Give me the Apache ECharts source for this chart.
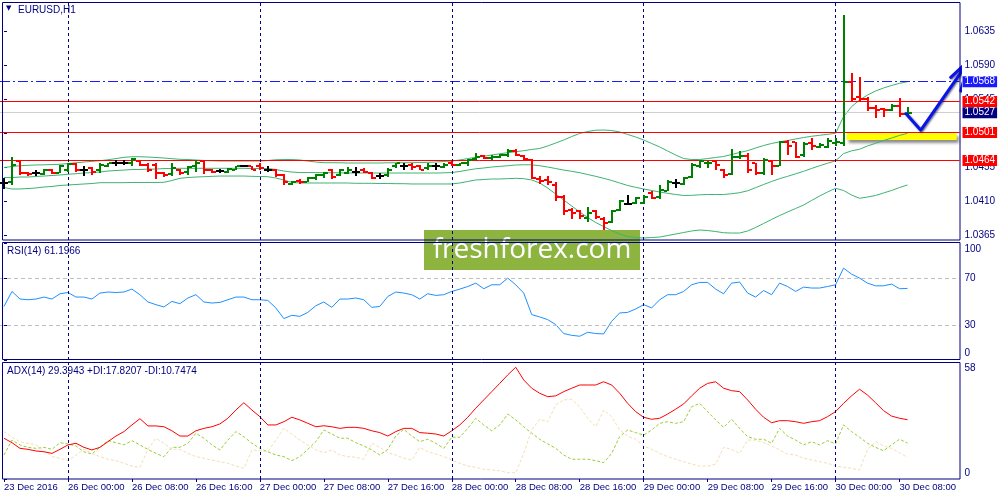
<!DOCTYPE html>
<html><head><meta charset="utf-8">
<script src="https://cdn.jsdelivr.net/npm/echarts@6/dist/echarts.min.js"></script>
<style>html,body{margin:0;padding:0;background:#fff}#c{width:1000px;height:500px}</style>
</head><body><div id="c"></div>
<script>
// ---------- data ----------
const tickIndex = [0,8,16,24,32,40,48,56,64,72,80,88,96,104,112];
const tickLabels = ['23 Dec 2016','26 Dec 00:00','26 Dec 08:00','26 Dec 16:00','27 Dec 00:00','27 Dec 08:00','27 Dec 16:00','28 Dec 00:00','28 Dec 08:00','28 Dec 16:00','29 Dec 00:00','29 Dec 08:00','29 Dec 16:00','30 Dec 00:00','30 Dec 08:00'];
const daySeparators = [8,32,56,80,104];

const open = [1.0434,1.0435,1.0463,1.0448,1.0447,1.0446,1.0452,1.0448,1.0452,1.0459,
1.0451,1.0454,1.0451,1.0456,1.0460,1.0461,1.0461,1.0463,1.0458,1.0458,
1.0448,1.0446,1.0452,1.0449,1.0456,1.0463,1.0452,1.0450,1.0449,1.0452,
1.0457,1.0457,1.0457,1.0452,1.0452,1.0445,1.0433,1.0437,1.0436,1.0441,
1.0445,1.0452,1.0445,1.0447,1.0449,1.0452,1.0448,1.0443,1.0445,1.0456,
1.0457,1.0458,1.0457,1.0454,1.0456,1.0455,1.0460,1.0458,1.0460,1.0466,
1.0470,1.0467,1.0469,1.0471,1.0477,1.0470,1.0465,1.0439,1.0438,1.0432,
1.0416,1.0398,1.0397,1.0388,1.0397,1.0386,1.0383,1.0398,1.0407,1.0408,
1.0408,1.0421,1.0416,1.0424,1.0434,1.0433,1.0442,1.0456,1.0460,1.0463,
1.0452,1.0446,1.0469,1.0470,1.0460,1.0447,1.0463,1.0457,1.0488,1.0488,
1.0471,1.0487,1.0482,1.0482,1.0487,1.0487,1.0567,1.0548,1.0545,1.0533,
1.0532,1.0530,1.0536,1.0526];
const close = [1.0434,1.0458,1.0447,1.0446,1.0447,1.0452,1.0447,1.0457,1.0459,1.0451,
1.0451,1.0449,1.0458,1.0460,1.0460,1.0461,1.0466,1.0458,1.0452,1.0447,
1.0445,1.0454,1.0447,1.0455,1.0460,1.0451,1.0449,1.0450,1.0453,1.0456,
1.0457,1.0452,1.0454,1.0452,1.0445,1.0435,1.0436,1.0435,1.0441,1.0445,
1.0448,1.0442,1.0451,1.0451,1.0449,1.0449,1.0441,1.0443,1.0452,1.0460,
1.0457,1.0455,1.0452,1.0457,1.0456,1.0458,1.0458,1.0460,1.0464,1.0469,
1.0467,1.0469,1.0471,1.0477,1.0471,1.0466,1.0441,1.0437,1.0436,1.0416,
1.0397,1.0394,1.0391,1.0394,1.0389,1.0382,1.0397,1.0410,1.0407,1.0414,
1.0416,1.0414,1.0425,1.0435,1.0434,1.0441,1.0458,1.0463,1.0461,1.0458,
1.0445,1.0469,1.0470,1.0452,1.0448,1.0465,1.0456,1.0488,1.0483,1.0469,
1.0486,1.0483,1.0485,1.0490,1.0489,1.0567,1.0545,1.0545,1.0533,1.0531,
1.0530,1.0536,1.0526,1.0527];
const low = [1.0426,1.0432,1.0445,1.0444,1.0444,1.0445,1.0446,1.0447,1.0449,1.0449,
1.0444,1.0445,1.0448,1.0455,1.0457,1.0458,1.0456,1.0456,1.0449,1.0439,
1.0442,1.0444,1.0445,1.0445,1.0449,1.0446,1.0447,1.0447,1.0448,1.0451,
1.0456,1.0451,1.0451,1.0449,1.0442,1.0432,1.0432,1.0433,1.0435,1.0438,
1.0441,1.0439,1.0443,1.0446,1.0444,1.0447,1.0439,1.0439,1.0442,1.0454,
1.0452,1.0452,1.0451,1.0452,1.0452,1.0454,1.0456,1.0457,1.0457,1.0464,
1.0466,1.0465,1.0467,1.0468,1.0470,1.0464,1.0439,1.0433,1.0432,1.0410,
1.0392,1.0386,1.0387,1.0383,1.0387,1.0372,1.0381,1.0397,1.0405,1.0407,
1.0407,1.0413,1.0413,1.0423,1.0427,1.0432,1.0441,1.0454,1.0454,1.0452,
1.0441,1.0445,1.0466,1.0447,1.0445,1.0445,1.0445,1.0456,1.0471,1.0467,
1.0469,1.0478,1.0480,1.0480,1.0483,1.0483,1.0543,1.0543,1.0529,1.0520,
1.0521,1.0529,1.0521,1.0523];
const high = [1.0441,1.0469,1.0463,1.0449,1.0451,1.0453,1.0453,1.0458,1.0460,1.0460,
1.0457,1.0455,1.0460,1.0461,1.0464,1.0464,1.0467,1.0464,1.0460,1.0460,
1.0449,1.0460,1.0453,1.0457,1.0464,1.0464,1.0453,1.0453,1.0454,1.0457,
1.0458,1.0457,1.0460,1.0456,1.0453,1.0446,1.0437,1.0439,1.0442,1.0446,
1.0449,1.0453,1.0453,1.0455,1.0455,1.0454,1.0449,1.0447,1.0454,1.0461,
1.0461,1.0460,1.0458,1.0460,1.0460,1.0460,1.0463,1.0461,1.0466,1.0474,
1.0471,1.0471,1.0473,1.0479,1.0479,1.0471,1.0466,1.0444,1.0444,1.0436,
1.0419,1.0401,1.0399,1.0403,1.0398,1.0389,1.0398,1.0412,1.0419,1.0416,
1.0419,1.0423,1.0432,1.0438,1.0439,1.0442,1.0460,1.0464,1.0463,1.0464,
1.0453,1.0479,1.0476,1.0474,1.0461,1.0467,1.0464,1.0490,1.0491,1.0489,
1.0488,1.0493,1.0487,1.0493,1.0493,1.0656,1.0580,1.0574,1.0548,1.0537,
1.0533,1.0539,1.0546,1.0535];

const bbUpper = [1.04546,1.04560,1.04570,1.04576,1.04580,1.04582,1.04586,1.04589,1.04599,1.04609,
1.04619,1.04628,1.04636,1.04649,1.04665,1.04681,1.04689,1.04689,1.04685,1.04679,
1.04672,1.04663,1.04655,1.04652,1.04646,1.04639,1.04636,1.04632,1.04632,1.04632,
1.04632,1.04632,1.04632,1.04639,1.04649,1.04652,1.04652,1.04646,1.04632,1.04619,
1.04610,1.04610,1.04609,1.04606,1.04606,1.04606,1.04606,1.04606,1.04609,1.04610,
1.04610,1.04610,1.04612,1.04615,1.04619,1.04626,1.04632,1.04646,1.04665,1.04681,
1.04695,1.04712,1.04728,1.04742,1.04755,1.04769,1.04785,1.04798,1.04831,1.04870,
1.04910,1.04956,1.04996,1.05022,1.05039,1.05042,1.05035,1.05016,1.04983,1.04950,
1.04910,1.04864,1.04818,1.04765,1.04712,1.04665,1.04652,1.04652,1.04665,1.04679,
1.04692,1.04718,1.04745,1.04769,1.04804,1.04837,1.04864,1.04886,1.04903,1.04923,
1.04943,1.04959,1.04972,1.04985,1.04998,1.05218,1.05350,1.05438,1.05504,1.05557,
1.05597,1.05630,1.05659,1.05680];
const bbMiddle = [1.04414,1.04414,1.04421,1.04421,1.04428,1.04434,1.04441,1.04448,1.04457,1.04465,
1.04474,1.04480,1.04487,1.04500,1.04507,1.04513,1.04520,1.04520,1.04526,1.04526,
1.04533,1.04533,1.04536,1.04536,1.04536,1.04536,1.04536,1.04536,1.04536,1.04536,
1.04536,1.04533,1.04533,1.04533,1.04520,1.04500,1.04487,1.04480,1.04480,1.04480,
1.04478,1.04478,1.04476,1.04474,1.04474,1.04474,1.04474,1.04474,1.04474,1.04474,
1.04474,1.04474,1.04474,1.04474,1.04474,1.04476,1.04480,1.04494,1.04513,1.04530,
1.04540,1.04553,1.04562,1.04570,1.04580,1.04583,1.04582,1.04570,1.04553,1.04533,
1.04513,1.04496,1.04478,1.04454,1.04430,1.04404,1.04375,1.04342,1.04309,1.04285,
1.04263,1.04243,1.04223,1.04206,1.04190,1.04177,1.04179,1.04186,1.04190,1.04190,
1.04190,1.04200,1.04214,1.04239,1.04280,1.04322,1.04362,1.04399,1.04430,1.04463,
1.04496,1.04534,1.04570,1.04603,1.04635,1.04730,1.04767,1.04788,1.04831,1.04866,
1.04903,1.04936,1.04971,1.04998];
const bbLower = [1.04282,1.04263,1.04263,1.04269,1.04276,1.04289,1.04296,1.04309,1.04316,1.04322,
1.04329,1.04335,1.04346,1.04346,1.04346,1.04346,1.04349,1.04349,1.04349,1.04349,
1.04351,1.04375,1.04404,1.04414,1.04421,1.04425,1.04430,1.04434,1.04434,1.04434,
1.04434,1.04430,1.04428,1.04425,1.04408,1.04382,1.04349,1.04342,1.04342,1.04342,
1.04342,1.04342,1.04342,1.04342,1.04338,1.04338,1.04338,1.04335,1.04335,1.04333,
1.04333,1.04329,1.04329,1.04329,1.04329,1.04329,1.04329,1.04342,1.04362,1.04382,
1.04388,1.04395,1.04395,1.04399,1.04404,1.04399,1.04382,1.04342,1.04276,1.04196,
1.04117,1.04038,1.03959,1.03886,1.03820,1.03767,1.03714,1.03668,1.03635,1.03622,
1.03615,1.03622,1.03628,1.03648,1.03668,1.03688,1.03708,1.03721,1.03714,1.03701,
1.03685,1.03681,1.03681,1.03708,1.03754,1.03807,1.03860,1.03912,1.03959,1.04005,
1.04051,1.04111,1.04170,1.04223,1.04272,1.04243,1.04183,1.04140,1.04157,1.04177,
1.04210,1.04243,1.04282,1.04316];

const rsi = [45.8,58.6,52.1,51.5,52.1,53.8,52.1,56.6,57.7,53.8,
53.8,52.1,57.2,58.1,57.7,58.1,60.6,55.8,49.6,47.3,
45.3,50.1,48.1,53.0,55.8,49.6,48.7,49.2,51.5,53.8,
53.8,51.5,51.5,50.9,44.5,35.4,38.2,37.3,40.7,46.4,
49.6,45.0,52.1,52.1,53.0,51.5,45.0,45.8,54.3,58.1,
57.2,55.8,52.1,56.6,55.2,55.8,58.6,60.6,62.8,65.7,
60.9,64.3,64.3,70.0,64.3,57.2,38.8,36.8,34.5,30.3,
22.6,21.1,20.3,23.7,22.6,22.3,33.1,40.2,40.7,43.6,
47.3,44.5,51.5,55.8,55.8,58.6,64.3,66.3,66.3,60.6,
56.6,65.7,66.6,57.2,53.8,59.4,55.8,65.7,62.8,58.6,
62.3,61.5,61.5,62.8,64.3,78.5,73.4,70.0,65.7,63.4,
63.4,64.9,60.9,61.2];
const adx = [20.2,18.0,15.2,14.7,13.9,13.5,12.7,14.7,16.9,17.7,
15.7,14.4,15.7,18.5,21.3,23.5,26.8,29.9,26.3,26.3,
25.9,23.9,21.3,21.3,23.9,25.1,25.9,27.3,30.1,34.2,
37.8,34.2,30.9,26.8,26.8,28.4,30.6,29.3,27.6,25.9,
26.4,25.9,25.1,25.6,25.6,25.1,23.9,23.0,21.3,23.5,
25.1,25.1,23.0,22.7,22.3,21.3,23.9,26.8,30.6,35.1,
39.2,43.3,47.4,51.6,55.4,49.1,45.0,42.5,40.8,41.2,
43.3,45.0,46.6,46.6,46.6,48.2,46.6,42.5,37.5,33.4,
30.6,29.6,30.1,32.2,34.6,37.2,41.2,45.0,47.4,48.2,
45.0,43.8,43.3,39.2,34.6,30.6,27.9,28.9,28.9,28.4,
27.6,28.4,28.9,30.9,33.4,37.5,41.2,44.5,41.6,37.8,
33.9,31.2,30.1,29.4];
const plusDI = [11.9,19.3,16.9,15.7,15.2,15.7,14.7,18.0,17.4,16.4,
13.5,12.4,15.7,19.0,18.0,16.9,19.0,16.9,14.7,12.7,
11.1,15.7,15.7,17.7,22.7,20.2,16.9,14.4,19.3,23.5,
21.0,17.7,15.2,13.5,11.9,11.1,9.1,11.1,14.7,18.5,
24.3,22.3,20.2,20.2,18.0,16.4,14.4,11.9,14.7,21.3,
24.6,21.3,18.5,19.7,17.7,15.2,20.7,20.7,25.1,30.1,
26.8,23.9,26.8,32.2,29.3,25.9,22.7,19.7,17.4,15.2,
11.9,9.8,9.8,9.8,9.1,8.1,12.7,21.0,24.3,23.0,
21.8,24.3,27.6,28.4,27.6,28.4,35.8,37.5,33.4,29.3,
25.6,29.6,25.1,21.0,19.7,19.7,17.7,25.1,21.3,19.3,
16.9,18.5,16.9,19.0,17.4,26.8,23.5,20.7,17.7,15.7,
14.0,16.9,19.7,17.8];
const minusDI = [23.5,20.7,18.5,17.7,16.9,14.0,11.1,10.3,9.1,11.9,
14.7,12.7,11.1,9.8,9.1,7.8,6.4,5.8,14.7,20.2,
17.7,14.7,14.7,12.7,11.1,10.3,9.4,8.6,7.8,6.4,
5.3,14.4,14.0,13.5,19.3,25.1,22.3,19.3,16.9,14.4,
13.0,14.4,11.9,11.1,10.8,9.8,17.7,15.7,13.0,11.9,
10.3,9.4,15.7,13.5,12.4,11.1,9.4,7.8,6.4,5.8,
4.8,4.5,4.1,3.1,3.1,12.7,24.3,29.6,28.4,36.7,
39.2,39.5,35.8,30.1,25.9,34.2,30.9,24.3,21.3,19.7,
16.4,14.7,12.7,11.1,9.8,8.6,7.4,6.4,6.4,7.4,
15.7,14.7,12.7,19.3,19.3,18.0,16.4,14.4,12.4,11.9,
10.3,9.4,8.6,7.8,6.4,5.8,5.3,4.5,14.7,18.5,
16.4,15.2,13.0,10.7];

const priceTicks = [1.0365,1.0410,1.0455,1.0500,1.0545,1.0590,1.0635];
const priceLevels = [1.0568,1.0542,1.0527,1.0501,1.0464];
const rsiTicks = [0,30,70,100];
const rsiLevels = [30,70];
const adxTicks = [0,58];
const zoneX = [105.4,119.15];
const zoneY = [1.0500,1.0491];
const arrowPath = [[112.8,1.0526],[114.66,1.0504],[120.75,1.05967],[118.4,1.05738],[120.75,1.05967],[119.66,1.05561]];
const titles = ['EURUSD,H1','RSI(14) 61.1966','ADX(14) 29.3943 +DI:17.8207 -DI:10.7474'];

// ---------- styles ----------
const FONT = "'Liberation Sans', Arial, sans-serif";
const NAVY = '#000080';
const levelStyle = [
  {line:{color:'#1a1aff',type:[10,3,2,3],width:1}, bg:'#1a1aff'},
  {line:{color:'#ff0000',type:'solid',width:1}, bg:'#ff0000'},
  {line:{color:'#d0d0d0',type:'solid',width:1}, bg:'#000080'},
  {line:{color:'#ff0000',type:'solid',width:1}, bg:'#ff0000'},
  {line:{color:'#ff0000',type:'solid',width:1}, bg:'#ff0000'}
];
const sepLine = {color:NAVY,type:[3,3],width:1};

const chart = echarts.init(document.getElementById('c'), null, {renderer:'canvas'});
const idx = (arr) => arr.map((v,i)=>[i,v]);

function renderBar(params, api){
  const i=api.value(0), o=api.value(1), c=api.value(2), l=api.value(3), h=api.value(4);
  const ph=api.coord([i,h]), pl=api.coord([i,l]), po=api.coord([i,o]), pc=api.coord([i,c]);
  const col = c>o ? '#008000' : (c<o ? '#ff0000' : '#000000');
  const x = Math.round(ph[0]);
  let y1 = Math.round(ph[1]), y2 = Math.round(pl[1]); if (y2-y1<2) y2=y1+2;
  const yo=Math.round(po[1]), yc=Math.round(pc[1]);
  return {type:'group', children:[
    {type:'rect', shape:{x:x-1, y:y1, width:2, height:y2-y1}, style:{fill:col}},
    {type:'rect', shape:{x:x-4, y:yo-1, width:3, height:2}, style:{fill:col}},
    {type:'rect', shape:{x:x+1, y:yc-1, width:3, height:2}, style:{fill:col}}
  ]};
}

const grids = [
  {left:-0.5, width:960, top:2, height:238},
  {left:-0.5, width:960, top:243, height:117},
  {left:-0.5, width:960, top:362, height:117}
];
const xAxes = [0,1,2].map(k => ({
  type:'value', gridIndex:k, min:-0.5, max:119.5,
  axisLine:{show:false}, splitLine:{show:false},
  axisTick: k===2 ? {show:true, customValues:tickIndex, length:3, lineStyle:{color:NAVY}} : {show:false},
  axisLabel: k===2 ? {show:true, customValues:tickIndex, align:'left', margin:3, color:NAVY, fontSize:9.5, fontFamily:FONT,
     formatter:(v)=>{const j=tickIndex.indexOf(Math.round(v)); return j>=0?tickLabels[j]:'';}} : {show:false}
}));
const yLabelBase = {color:NAVY, fontSize:10, fontFamily:FONT, margin:5};
const yAxes = [
  {type:'value', gridIndex:0, position:'right', min:1.03589, max:1.06733, axisLine:{show:false}, splitLine:{show:false},
   axisTick:{show:true, customValues:priceTicks, length:3, lineStyle:{color:NAVY}},
   axisLabel:Object.assign({customValues:priceTicks, formatter:(v)=>v.toFixed(4)}, yLabelBase)},
  {type:'value', gridIndex:1, position:'right', min:0, max:100, axisLine:{show:false}, splitLine:{show:false},
   axisTick:{show:true, customValues:rsiTicks, length:3, lineStyle:{color:NAVY}},
   axisLabel:Object.assign({customValues:rsiTicks, formatter:(v)=> v===100?'{t|100}':(v===0?'{b|0}':String(v)),
     rich:{t:{padding:[12,0,0,0],color:NAVY,fontSize:10,fontFamily:FONT}, b:{padding:[0,0,14,0],color:NAVY,fontSize:10,fontFamily:FONT}}}, yLabelBase)},
  {type:'value', gridIndex:2, position:'right', min:0, max:58, axisLine:{show:false}, splitLine:{show:false},
   axisTick:{show:true, customValues:adxTicks, length:3, lineStyle:{color:NAVY}},
   axisLabel:Object.assign({customValues:adxTicks, formatter:(v)=> v===58?'{t|58}':'{b|0}',
     rich:{t:{padding:[12,0,0,0],color:NAVY,fontSize:10,fontFamily:FONT}, b:{padding:[0,0,12,0],color:NAVY,fontSize:10,fontFamily:FONT}}}, yLabelBase)}
];

const sepMark = {silent:true, symbol:['none','none'], label:{show:false}, lineStyle:sepLine, precision:4,
  data: daySeparators.map(v=>({xAxis:v}))};

const series = [
  {name:'bbUpper', type:'line', xAxisIndex:0, yAxisIndex:0, data:idx(bbUpper), showSymbol:false, z:2,
   lineStyle:{color:'#3cb371',width:1},
   markArea:{silent:true, itemStyle:{color:'#ffff00', shadowColor:'rgba(0,0,0,0.45)', shadowBlur:3, shadowOffsetX:2, shadowOffsetY:3},
     data:[[{coord:[zoneX[0],zoneY[0]]},{coord:[zoneX[1],zoneY[1]]}]]}},
  {name:'bbMiddle', type:'line', xAxisIndex:0, yAxisIndex:0, data:idx(bbMiddle), showSymbol:false, z:2,
   lineStyle:{color:'#3cb371',width:1},
   markLine:{silent:true, symbol:['none','none'], precision:5,
     data: priceLevels.map((v,k)=>({yAxis:v, lineStyle:levelStyle[k].line,
       label:{show:true, position:'end', distance:3, formatter:v.toFixed(4), color:'#ffffff', backgroundColor:levelStyle[k].bg,
         padding:[1,2,0,2], fontSize:10, lineHeight:10, fontFamily:FONT}}))}},
  {name:'bbLower', type:'line', xAxisIndex:0, yAxisIndex:0, data:idx(bbLower), showSymbol:false, z:2,
   lineStyle:{color:'#3cb371',width:1}, markLine:sepMark},
  {name:'EURUSD', type:'custom', xAxisIndex:0, yAxisIndex:0, z:5,
   data: open.map((o,i)=>[i,o,close[i],low[i],high[i]]), encode:{x:0,y:[1,2,3,4]}, renderItem:renderBar},
  {name:'arrow', type:'line', xAxisIndex:0, yAxisIndex:0, data:arrowPath, clip:false, showSymbol:false, z:8, silent:true,
   lineStyle:{color:'#0a14e6', width:3, cap:'round', join:'round', shadowColor:'rgba(0,0,60,0.6)', shadowBlur:2, shadowOffsetX:1, shadowOffsetY:1}},
  {name:'RSI', type:'line', xAxisIndex:1, yAxisIndex:1, data:idx(rsi), showSymbol:false, z:3,
   lineStyle:{color:'#1e90ff',width:1},
   markLine:{silent:true, symbol:['none','none'], precision:4, label:{show:false}, lineStyle:{color:'#c0c0c0',type:[4,3],width:1},
     data:rsiLevels.map(v=>({yAxis:v})).concat(daySeparators.map(v=>({xAxis:v, lineStyle:sepLine})))}},
  {name:'ADX', type:'line', xAxisIndex:2, yAxisIndex:2, data:idx(adx), showSymbol:false, z:3,
   lineStyle:{color:'#ff0000',width:1}, markLine:sepMark},
  {name:'+DI', type:'line', xAxisIndex:2, yAxisIndex:2, data:idx(plusDI), showSymbol:false, z:2,
   lineStyle:{color:'#9acd32',width:1,type:[3,2]}},
  {name:'-DI', type:'line', xAxisIndex:2, yAxisIndex:2, data:idx(minusDI), showSymbol:false, z:2,
   lineStyle:{color:'#f5deb3',width:1,type:[3,2]}}
];

const border = (y,h)=>({type:'rect', shape:{x:2.5,y:y,width:957.5,height:h}, style:{fill:'none',stroke:NAVY,lineWidth:1}, silent:true, z:20});
const graphic = [
  border(2.5,237.5), border(242.5,117), border(362.5,116.5),
  {type:'text', left:6, top:5, style:{text:'▼', fontSize:7, fill:NAVY, fontFamily:'DejaVu Sans'}, z:21},
  {type:'text', left:18, top:5, style:{text:titles[0], fontSize:10, fill:NAVY, fontFamily:FONT}, z:21},
  {type:'text', left:7, top:246, style:{text:titles[1], fontSize:10, fill:NAVY, fontFamily:FONT}, z:21},
  {type:'text', left:7, top:366, style:{text:titles[2], fontSize:10, fill:NAVY, fontFamily:FONT}, z:21},
  {type:'group', left:424, top:230, z:30, children:[
    {type:'rect', shape:{x:0,y:0,width:216,height:40}, style:{fill:'#8cb43f'}},
    {type:'text', x:108, y:20, style:{text:'freshforex.com', fill:'#ffffff', fontSize:28, fontFamily:"'Open Sans', sans-serif", align:'center', verticalAlign:'middle'}}
  ]}
];

chart.setOption({animation:false, backgroundColor:'#ffffff', grid:grids, xAxis:xAxes, yAxis:yAxes, series:series, graphic:graphic});
</script></body></html>
